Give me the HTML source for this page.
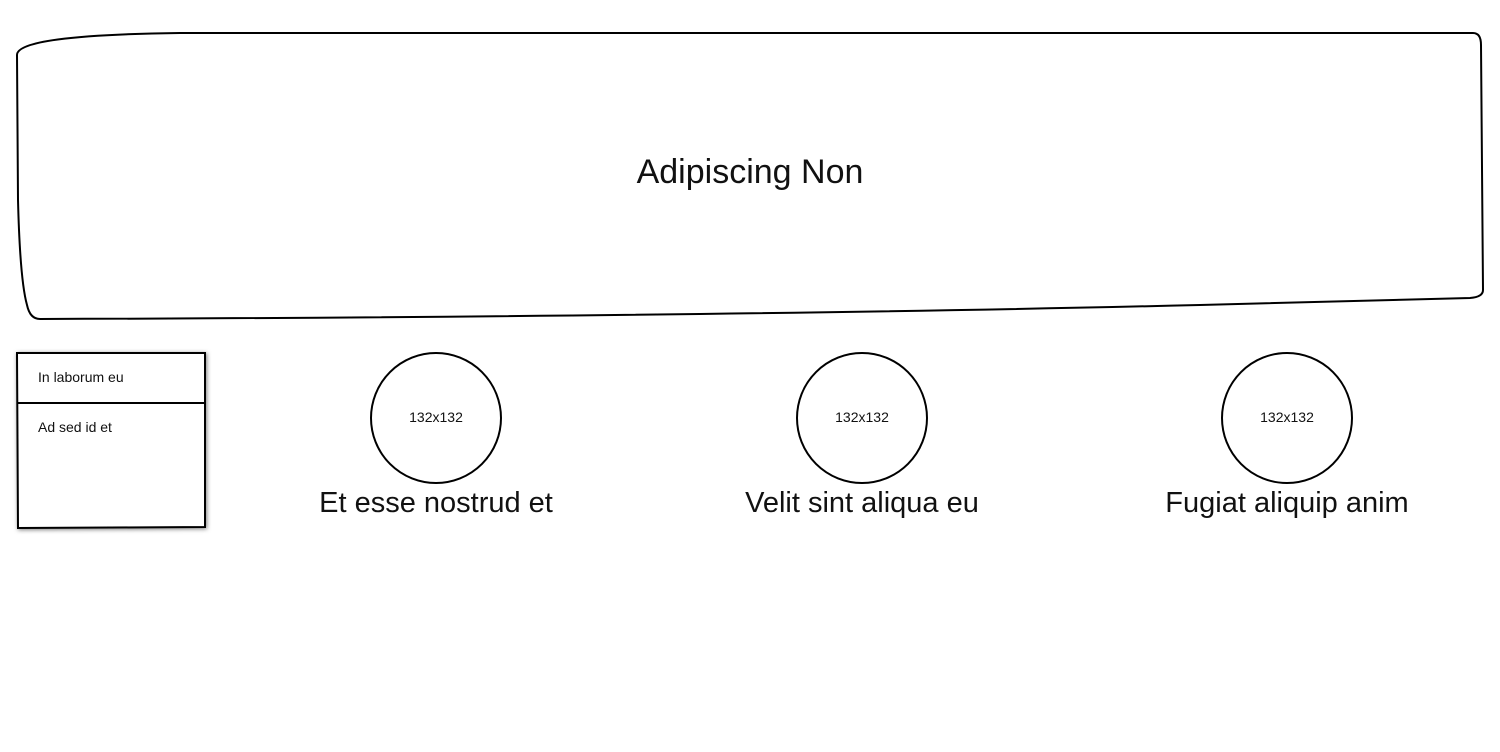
<!DOCTYPE html>
<html><head><meta charset="utf-8"><style>
html,body{margin:0;padding:0;background:#fff;width:1500px;height:752px;overflow:hidden;font-family:"Comic Sans MS","Liberation Sans",sans-serif;}
.t{position:absolute;white-space:nowrap;color:#111;}
</style></head><body>
<svg width="1500" height="752" style="position:absolute;left:0;top:0">
<defs><filter id="sh"><feDropShadow dx="1" dy="1" stdDeviation="2" flood-opacity="0.5"/></filter></defs>
<path d="M17,55 Q17,35 180,33 L1473,33 Q1481,33 1481,45 L1483,290 Q1483,297 1470,298 L1200,305 Q700,317 40,319 Q30,319 27,305 Q20,280 18,200 Z" fill="#fff" stroke="#000" stroke-width="2"/>
<g filter="url(#sh)"><path d="M17,353 L205,353 L205,527 L18,528 Z" fill="#fff" stroke="#000" stroke-width="2"/></g>
<line x1="17" y1="403" x2="205" y2="403" stroke="#000" stroke-width="2"/>
<circle cx="436" cy="418" r="65" fill="#fff" stroke="#000" stroke-width="2"/>
<circle cx="862" cy="418" r="65" fill="#fff" stroke="#000" stroke-width="2"/>
<circle cx="1287" cy="418" r="65" fill="#fff" stroke="#000" stroke-width="2"/>
</svg>
<div class="t" style="left:0;width:1500px;text-align:center;top:153px;font-size:34px;">Adipiscing Non</div>
<div class="t" style="left:38px;top:369px;font-size:14px;">In laborum eu</div>
<div class="t" style="left:38px;top:419px;font-size:14px;">Ad sed id et</div>
<div class="t" style="left:386px;width:100px;text-align:center;top:409px;font-size:14px;">132x132</div>
<div class="t" style="left:812px;width:100px;text-align:center;top:409px;font-size:14px;">132x132</div>
<div class="t" style="left:1237px;width:100px;text-align:center;top:409px;font-size:14px;">132x132</div>
<div class="t" style="left:236px;width:400px;text-align:center;top:487px;font-size:29px;">Et esse nostrud et</div>
<div class="t" style="left:662px;width:400px;text-align:center;top:487px;font-size:29px;">Velit sint aliqua eu</div>
<div class="t" style="left:1087px;width:400px;text-align:center;top:487px;font-size:29px;">Fugiat aliquip anim</div>
</body></html>
